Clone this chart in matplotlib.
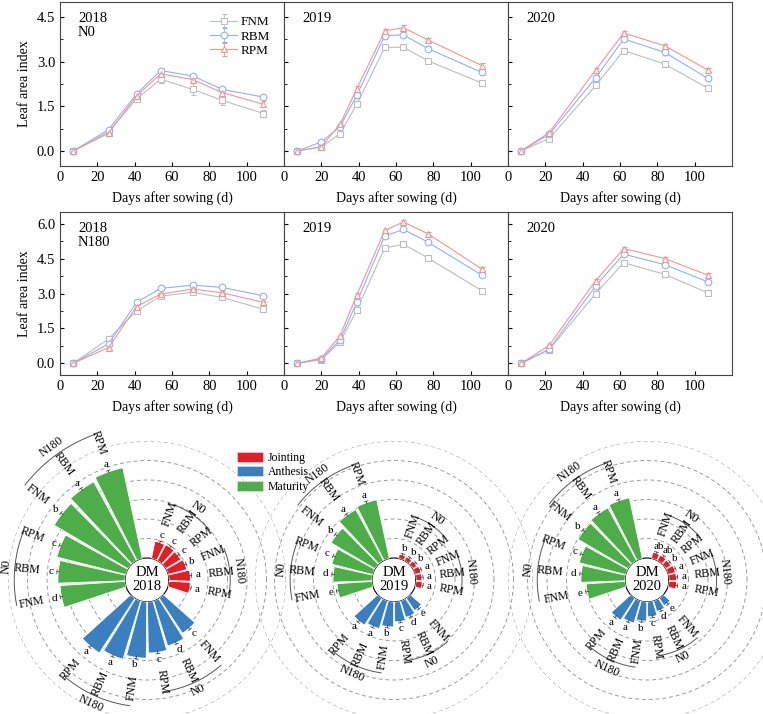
import numpy as np
import matplotlib.pyplot as plt
from matplotlib.patches import Patch

plt.rcParams['font.family'] = 'serif'
plt.rcParams['font.serif'] = ['Liberation Serif', 'DejaVu Serif']

treatments = ['FNM', 'RBM', 'RPM']
years = ['2018', '2019', '2020']
n_levels = ['N0', 'N180']

# sampling days per season
days_2018 = [7, 26, 41, 54, 71, 87, 109]
days_2019 = [7, 20, 30, 39, 54, 64, 77, 106]
days_2020 = [7, 22, 47, 62, 84, 107]

# leaf area index, rows = FNM / RBM / RPM
lai_n0_2018 = [[0, 0.65, 1.75, 2.41, 2.07, 1.70, 1.26],
               [0, 0.72, 1.92, 2.70, 2.52, 2.07, 1.81],
               [0, 0.60, 1.85, 2.59, 2.40, 1.96, 1.57]]
lai_n0_2019 = [[0, 0.14, 0.58, 1.57, 3.48, 3.48, 3.03, 2.28],
               [0, 0.31, 0.82, 1.87, 3.87, 3.90, 3.44, 2.64],
               [0, 0.15, 0.90, 2.09, 4.03, 4.14, 3.73, 2.87]]
lai_n0_2020 = [[0, 0.42, 2.20, 3.37, 2.92, 2.11],
               [0, 0.56, 2.46, 3.76, 3.31, 2.44],
               [0, 0.62, 2.72, 3.96, 3.53, 2.72]]
lai_n180_2018 = [[0, 1.05, 2.25, 2.89, 3.05, 2.83, 2.32],
                 [0, 0.84, 2.62, 3.22, 3.36, 3.26, 2.90],
                 [0, 0.68, 2.44, 2.98, 3.19, 3.03, 2.62]]
lai_n180_2019 = [[0, 0.16, 0.90, 2.29, 4.96, 5.11, 4.53, 3.12],
                 [0, 0.19, 1.01, 2.62, 5.47, 5.75, 5.21, 3.79],
                 [0, 0.23, 1.18, 2.93, 5.71, 6.07, 5.57, 4.05]]
lai_n180_2020 = [[0, 0.58, 3.00, 4.32, 3.82, 3.03],
                 [0, 0.61, 3.33, 4.69, 4.24, 3.50],
                 [0, 0.77, 3.55, 4.93, 4.50, 3.79]]

# standard errors of LAI
err_n0_2018 = [[0, 0.08, 0.10, 0.12, 0.20, 0.15, 0.12],
               [0, 0.06, 0.05, 0.10, 0.08, 0.08, 0.06],
               [0, 0.10, 0.08, 0.10, 0.10, 0.12, 0.10]]
err_n0_2019 = [[0, 0.03, 0.05, 0.08, 0.10, 0.10, 0.07, 0.08],
               [0, 0.04, 0.05, 0.08, 0.08, 0.08, 0.08, 0.08],
               [0, 0.03, 0.05, 0.08, 0.08, 0.08, 0.07, 0.08]]
err_n0_2020 = [[0, 0.06, 0.08, 0.09, 0.08, 0.06],
               [0, 0.05, 0.08, 0.08, 0.08, 0.07],
               [0, 0.05, 0.08, 0.08, 0.06, 0.07]]
err_n180_2018 = [[0, 0.06, 0.06, 0.06, 0.06, 0.10, 0.08],
                 [0, 0.06, 0.05, 0.06, 0.05, 0.06, 0.06],
                 [0, 0.06, 0.06, 0.06, 0.06, 0.08, 0.06]]
err_n180_2019 = [[0, 0.03, 0.05, 0.08, 0.08, 0.08, 0.07, 0.08],
                 [0, 0.03, 0.05, 0.08, 0.08, 0.08, 0.07, 0.08],
                 [0, 0.03, 0.05, 0.08, 0.08, 0.08, 0.07, 0.08]]
err_n180_2020 = [[0, 0.05, 0.08, 0.08, 0.08, 0.10],
                 [0, 0.05, 0.08, 0.08, 0.08, 0.08],
                 [0, 0.05, 0.08, 0.08, 0.08, 0.08]]

# dry matter, order N0 FNM/RBM/RPM then N180 FNM/RBM/RPM
stages = ['Jointing', 'Anthesis', 'Maturity']
dm_2018_jointing = [4.5, 4.6, 4.5, 4.9, 5.5, 5.5]
dm_2018_anthesis = [10.8, 12.1, 13.1, 14.4, 15.6, 16.7]
dm_2018_maturity = [16.7, 17.2, 18.2, 22.0, 23.0, 23.8]
dm_2019_jointing = [1.1, 1.1, 1.2, 1.5, 1.5, 1.6]
dm_2019_anthesis = [3.8, 4.4, 5.1, 6.4, 7.4, 8.2]
dm_2019_maturity = [9.0, 10.0, 10.8, 13.1, 14.9, 15.4]
dm_2020_jointing = [1.6, 1.6, 1.5, 1.9, 1.9, 2.0]
dm_2020_anthesis = [2.3, 2.8, 3.8, 4.9, 5.9, 6.7]
dm_2020_maturity = [10.0, 11.3, 12.3, 14.9, 15.4, 15.9]

sig_2018_jointing = ['c', 'c', 'c', 'b', 'a', 'a']
sig_2018_anthesis = ['c', 'd', 'c', 'b', 'a', 'a']
sig_2018_maturity = ['d', 'c', 'c', 'b', 'a', 'a']
sig_2019_jointing = ['b', 'b', 'b', 'a', 'a', 'a']
sig_2019_anthesis = ['e', 'd', 'c', 'b', 'a', 'a']
sig_2019_maturity = ['e', 'd', 'c', 'b', 'a', 'a']
sig_2020_jointing = ['ab', 'ab', 'b', 'a', 'a', 'a']
sig_2020_anthesis = ['e', 'd', 'c', 'b', 'a', 'a']
sig_2020_maturity = ['e', 'd', 'c', 'b', 'a', 'a']

dm_err = 0.35

line_colors = ['#bdbdbd', '#8fb3ee', '#f39494']
line_markers = ['s', 'o', '^']
stage_colors = ['#e41e26', '#3a7fbf', '#4dae49']

W, H = 763, 714
fig = plt.figure(figsize=(W / 100, H / 100), dpi=100)


def px_axes(x0, y0, x1, y1, **kw):
    return fig.add_axes([x0 / W, 1 - y1 / H, (x1 - x0) / W, (y1 - y0) / H], **kw)


# ---- LAI curves ----
line_panels = [
    [(days_2018, lai_n0_2018, err_n0_2018), (days_2019, lai_n0_2019, err_n0_2019),
     (days_2020, lai_n0_2020, err_n0_2020)],
    [(days_2018, lai_n180_2018, err_n180_2018), (days_2019, lai_n180_2019, err_n180_2019),
     (days_2020, lai_n180_2020, err_n180_2020)],
]
row_y = [(2, 166), (212, 375)]
col_x = [(60, 284), (284, 508), (508, 732)]
row_ylim = [(-0.5, 5.0), (-0.5, 6.5)]
row_ticks = [[0, 1.5, 3.0, 4.5], [0, 1.5, 3.0, 4.5, 6.0]]

for r in range(2):
    for c in range(3):
        ax = px_axes(col_x[c][0], row_y[r][0], col_x[c][1], row_y[r][1])
        days, vals, errs = line_panels[r][c]
        for k in range(3):
            ax.errorbar(days, vals[k], yerr=errs[k], color=line_colors[k],
                        marker=line_markers[k], ms=4.8, mfc='white', mew=0.8,
                        lw=0.8, elinewidth=0.6, capsize=1.8, label=treatments[k])
        ax.set_xlim(0, 120)
        ax.set_ylim(*row_ylim[r])
        ax.set_xticks([0, 20, 40, 60, 80, 100])
        ax.set_yticks(row_ticks[r])
        ax.set_yticks(np.arange(0, row_ylim[r][1], 0.75), minor=True)
        ax.tick_params(direction='in', labelsize=10.5, length=3)
        ax.tick_params(which='minor', direction='in', length=1.8)
        ax.yaxis.set_major_formatter(plt.FormatStrFormatter('%.1f'))
        for s in ax.spines.values():
            s.set_linewidth(0.8)
            s.set_color('#444444')
        ax.set_xlabel('Days after sowing (d)', fontsize=10, labelpad=5)
        if c == 0:
            ax.set_ylabel('Leaf area index', fontsize=10, labelpad=4)
            ax.text(0.08, 0.94, years[c] + '\n' + n_levels[r], transform=ax.transAxes,
                    ha='left', va='top', fontsize=10.5, linespacing=1.15)
        else:
            ax.set_yticklabels([])
            ax.text(0.08, 0.94, years[c], transform=ax.transAxes,
                    ha='left', va='top', fontsize=10.5)
        if r == 0 and c == 0:
            ax.legend(loc='upper left', bbox_to_anchor=(0.63, 0.97), frameon=False,
                      fontsize=9.5, handlelength=2.0, labelspacing=0.15,
                      handletextpad=0.3, borderpad=0.2)

# ---- polar dry matter ----
polar_data = [
    ([dm_2018_jointing, dm_2018_anthesis, dm_2018_maturity],
     [sig_2018_jointing, sig_2018_anthesis, sig_2018_maturity]),
    ([dm_2019_jointing, dm_2019_anthesis, dm_2019_maturity],
     [sig_2019_jointing, sig_2019_anthesis, sig_2019_maturity]),
    ([dm_2020_jointing, dm_2020_anthesis, dm_2020_maturity],
     [sig_2020_jointing, sig_2020_anthesis, sig_2020_maturity]),
]
centers_x = [147, 394, 647]
center_y = 580
PXU = 3.9      # pixels per unit
HOLE = 22 / PXU
RMAX = 30
RPX = (RMAX + HOLE) * PXU
slot = 16.3
gap = 38.5
start = 71.0
names6 = treatments * 2

for p in range(3):
    cx = centers_x[p]
    ax = px_axes(cx - RPX, center_y - RPX, cx + RPX, center_y + RPX, projection='polar')
    ax.set_facecolor('none')
    ax.set_rorigin(-HOLE)
    ax.set_ylim(0, RMAX)
    ax.set_xticks([])
    ax.set_yticks([5, 10, 15, 20, 25, 30])
    ax.set_yticklabels([])
    ax.yaxis.grid(True, color='#9a9a9a', lw=0.7, ls=(0, (4, 3)))
    for s in ax.spines.values():
        s.set_visible(False)
    vals_all, sigs_all = polar_data[p]
    for g in range(3):
        vals = vals_all[g]
        sigs = sigs_all[g]
        thetas = [start - g * (gap + 5 * slot) - i * slot for i in range(6)]
        th = np.deg2rad(thetas)
        ax.bar(th, vals, width=np.deg2rad(slot * 0.9), bottom=0, color=stage_colors[g],
               edgecolor='white', lw=0.6, zorder=3)
        for i in range(6):
            t, v = thetas[i], vals[i]
            rr = v + HOLE
            d = 2.0 / (rr * PXU)
            ax.plot([th[i], th[i]], [v - dm_err, v + dm_err], color='#333333', lw=0.5, zorder=4)
            ax.plot([th[i] - d, th[i] + d], [v + dm_err] * 2, color='#333333', lw=0.5, zorder=4)
            ax.text(th[i], v + 1.9, sigs[i], ha='center', va='center', fontsize=8)
            tn = (t + 180) % 360 - 180
            if -90 < tn < 90:
                rot, ha = tn, 'left'
            else:
                rot, ha = tn + 180, 'right'
            ax.text(th[i], v + 4.6, names6[i], rotation=rot, rotation_mode='anchor',
                    ha=ha, va='center', fontsize=8.5)
        for n in range(2):
            grp = vals[3 * n:3 * n + 3]
            ra = max(grp) + 10.2
            ta = np.linspace(th[3 * n], th[3 * n + 2], 30)
            ax.plot(ta, [ra] * 30, color='#555555', lw=0.7, clip_on=False)
            tm = (thetas[3 * n + 1] + 180) % 360 - 180
            rot = tm - 90 if tm > 0 else tm + 90
            ax.text(th[3 * n + 1], ra + 2.3, n_levels[n], rotation=rot,
                    rotation_mode='anchor', ha='center', va='center', fontsize=8.5)
    ax.text(0.5, 0.5, 'DM\n' + years[p], transform=ax.transAxes, ha='center',
            va='center', fontsize=10.5, linespacing=1.1)

handles = [Patch(facecolor=stage_colors[g], edgecolor='#dddddd', lw=0.5, label=stages[g])
           for g in range(3)]
fig.legend(handles=handles, loc='upper left', bbox_to_anchor=(230 / W, 1 - 445 / H),
           frameon=False, fontsize=8.5, handlelength=2.2, handleheight=0.9,
           labelspacing=0.2, handletextpad=0.4, borderpad=0.1)

fig.savefig('out.png', dpi=100)
